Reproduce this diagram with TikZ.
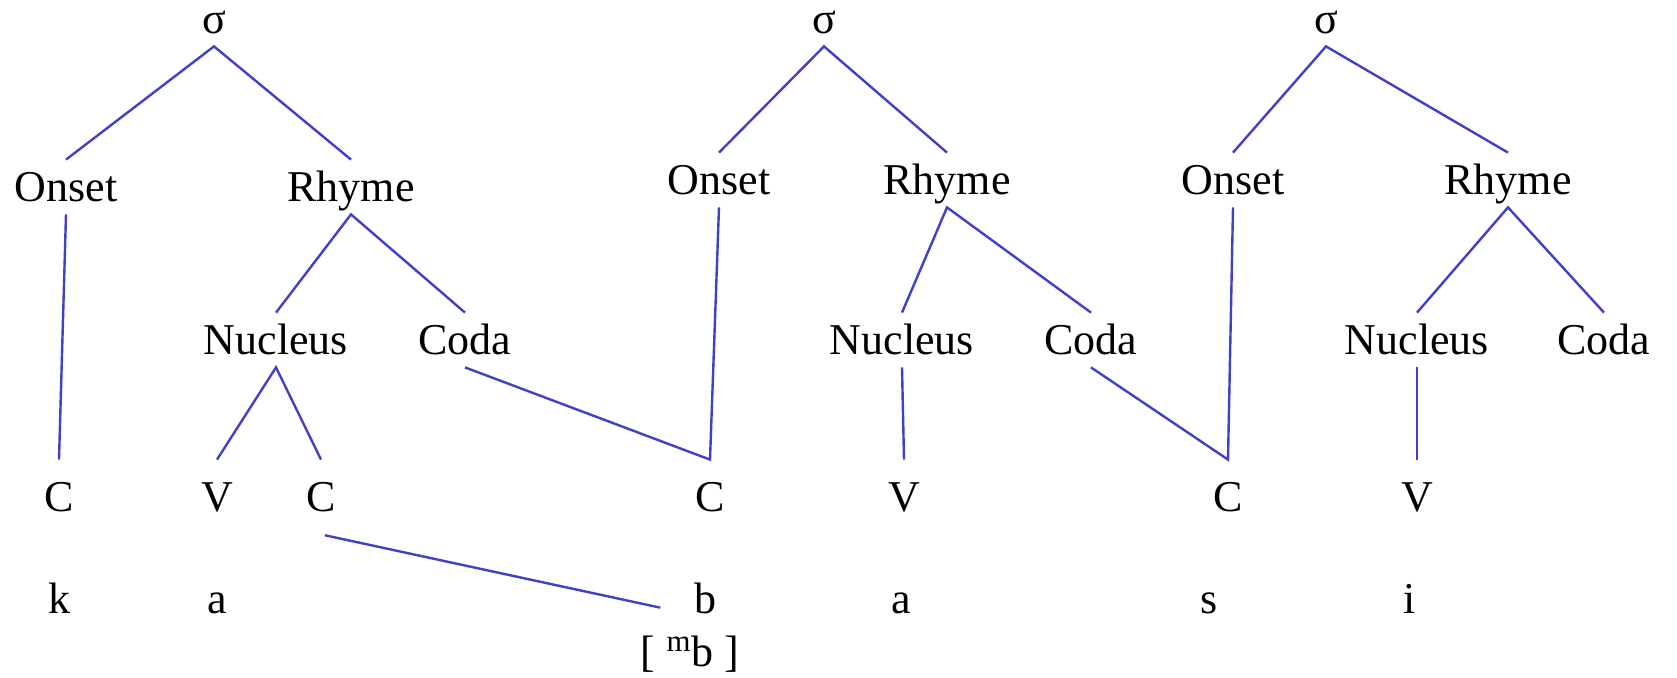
\documentclass[tikz,border=0pt]{standalone}
\usepackage{fontspec}
\setmainfont{Liberation Serif}
\definecolor{penblue}{RGB}{64,64,200}
\tikzset{
  lab/.style={font=\fontsize{22}{26}\selectfont, text height=15pt, text depth=0pt, inner xsep=2pt, inner ysep=6pt},
  seg/.style={lab, inner ysep=11pt},
  link/.style={draw=penblue, line width=1.2pt},
}
\begin{document}
\begin{tikzpicture}[x=0.5pt,y=-0.5pt]
\useasboundingbox[fill=white] (0,0) rectangle (1677,678);
% first syllable: ka
\node[lab] (sig1) at (214,19) {σ};
\node[lab] (on1) at (66,187) {Onset};
\node[lab] (rh1) at (351,187) {Rhyme};
\node[lab] (nu1) at (276,340) {Nucleus};
\node[lab] (co1) at (465,340) {Coda};
\node[seg] (c1) at (59,497) {C};
\node[seg] (v1) at (217,497) {V};
\node[seg] (c2) at (321,497) {C};
\node[lab,anchor=base] (k) at (59,614) {k};
\node[lab,anchor=base] (a1) at (217,614) {a};
% second syllable: ba
\node[lab] (sig2) at (824,19) {σ};
\node[lab] (on2) at (719,180) {Onset};
\node[lab] (rh2) at (947,180) {Rhyme};
\node[lab] (nu2) at (902,340) {Nucleus};
\node[lab] (co2) at (1091,340) {Coda};
\node[seg] (c3) at (710,497) {C};
\node[seg] (v2) at (904,497) {V};
\node[lab,anchor=base] (b) at (705,614) {b};
\node[lab,anchor=base] (a2) at (901,614) {a};
\node[lab,anchor=base] (mb) at (690,667) {[ $^{\mathrm{m}}$b ]};
% third syllable: si
\node[lab] (sig3) at (1326,19) {σ};
\node[lab] (on3) at (1233,180) {Onset};
\node[lab] (rh3) at (1508,180) {Rhyme};
\node[lab] (nu3) at (1417,340) {Nucleus};
\node[lab] (co3) at (1604,340) {Coda};
\node[seg] (c4) at (1228,497) {C};
\node[seg] (v3) at (1417,497) {V};
\node[lab,anchor=base] (s) at (1209,614) {s};
\node[lab,anchor=base] (i) at (1410,614) {i};
% branches
\draw[link] (on1.north) -- (sig1.south) -- (rh1.north);
\draw[link] (on1.south) -- (c1.north);
\draw[link] (nu1.north) -- (rh1.south) -- (co1.north);
\draw[link] (v1.north) -- (nu1.south) -- (c2.north);
\draw[link] (co1.south) -- (c3.north) -- (on2.south);
\draw[link,shorten <=2pt,shorten >=15pt] (c2.south) -- (b.base west);
\draw[link] (on2.north) -- (sig2.south) -- (rh2.north);
\draw[link] (nu2.north) -- (rh2.south) -- (co2.north);
\draw[link] (nu2.south) -- (v2.north);
\draw[link] (co2.south) -- (c4.north) -- (on3.south);
\draw[link] (on3.north) -- (sig3.south) -- (rh3.north);
\draw[link] (nu3.north) -- (rh3.south) -- (co3.north);
\draw[link] (v3.north) -- (nu3.south);
\end{tikzpicture}
\end{document}
